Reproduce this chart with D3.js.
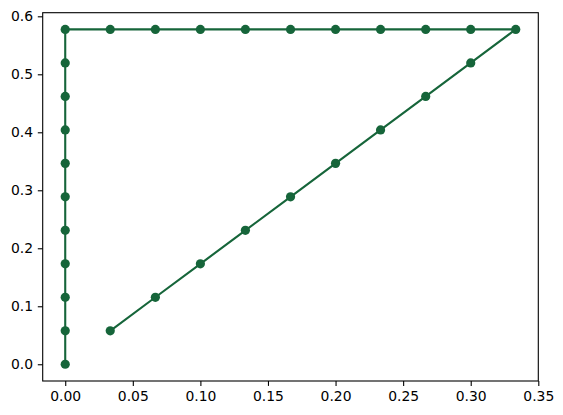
<!DOCTYPE html>
<html>
<head>
<meta charset="utf-8">
<script src="https://cdn.jsdelivr.net/npm/d3@7"></script>
<style>
  body { margin: 0; background: #fff; }
  svg text { font-family: "DejaVu Sans", sans-serif; font-size: 13.9px; fill: #000; }
</style>
</head>
<body>
<svg id="chart" width="563" height="415"></svg>
<script>
// path points, in drawing order: up the left side, along the top, down the diagonal
var xValues = [0, 0, 0, 0, 0, 0, 0, 0, 0, 0, 0,
    0.0333, 0.0667, 0.1, 0.1333, 0.1667, 0.2, 0.2333, 0.2667, 0.3, 0.3333,
    0.3, 0.2667, 0.2333, 0.2, 0.1667, 0.1333, 0.1, 0.0667, 0.0333];
var yValues = [0, 0.0577, 0.1155, 0.1732, 0.2309, 0.2887, 0.3464, 0.4041, 0.4619, 0.5196, 0.5774,
    0.5774, 0.5774, 0.5774, 0.5774, 0.5774, 0.5774, 0.5774, 0.5774, 0.5774, 0.5774,
    0.5196, 0.4619, 0.4041, 0.3464, 0.2887, 0.2309, 0.1732, 0.1155, 0.0577];
var xTicks = [0, 0.05, 0.1, 0.15, 0.2, 0.25, 0.3, 0.35];
var yTicks = [0, 0.1, 0.2, 0.3, 0.4, 0.5, 0.6];

var points = xValues.map(function (x, i) {
    return {x: x, y: yValues[i]};
});

var svg = d3.select("#chart"),
    plotLeft = 42.7, plotRight = 538.3, plotTop = 12.7, plotBottom = 381;

var color = "#16653a";

var x = d3.scaleLinear().domain([-0.016667, 0.35]).range([plotLeft, plotRight]);
var y = d3.scaleLinear().domain([-0.028868, 0.606218]).range([plotBottom, plotTop]);

var xAxis = svg.append("g")
    .attr("transform", "translate(0," + plotBottom + ")")
    .call(d3.axisBottom(x).tickValues(xTicks).tickFormat(d3.format(".2f")).tickSize(4.9).tickPadding(4.8));

var yAxis = svg.append("g")
    .attr("transform", "translate(" + plotLeft + ",0)")
    .call(d3.axisLeft(y).tickValues(yTicks).tickFormat(d3.format(".1f")).tickSize(4.9).tickPadding(4.8));

[xAxis, yAxis].forEach(function (g) {
    g.select(".domain").remove();
    g.selectAll("line").attr("stroke", "#000").attr("stroke-width", 1.1);
    g.attr("font-family", null).attr("font-size", null);
});

svg.append("g")
    .append("path")
    .datum(points)
    .attr("fill", "none")
    .attr("stroke", color)
    .attr("stroke-width", 2.1)
    .attr("d", d3.line()
        .x(function (d) { return x(d.x); })
        .y(function (d) { return y(d.y); }));

svg.append("g")
    .selectAll("circle")
    .data(points)
    .enter().append("circle")
    .attr("cx", function (d) { return x(d.x); })
    .attr("cy", function (d) { return y(d.y); })
    .attr("r", 4.6)
    .attr("fill", color);

svg.append("rect")
    .attr("x", plotLeft)
    .attr("y", plotTop)
    .attr("width", plotRight - plotLeft)
    .attr("height", plotBottom - plotTop)
    .attr("fill", "none")
    .attr("stroke", "#000")
    .attr("stroke-width", 1.1);
</script>
</body>
</html>
